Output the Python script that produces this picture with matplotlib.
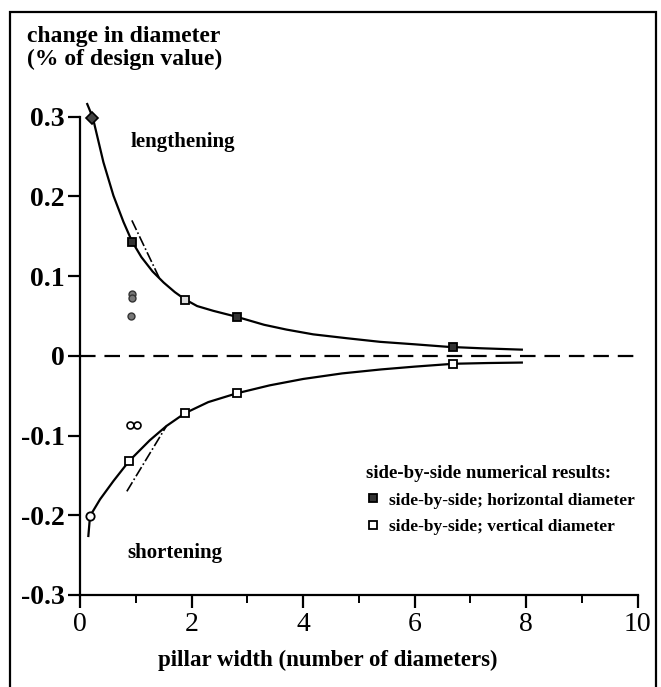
import matplotlib
matplotlib.use("Agg")
import matplotlib.pyplot as plt
from matplotlib.patches import Rectangle
from matplotlib.lines import Line2D

plt.rcParams['font.family'] = ['Liberation Serif', 'DejaVu Serif']

# fitted curves
x_up = [0.13, 0.23, 0.42, 0.60, 0.78, 0.93, 1.1, 1.3, 1.5, 1.7, 1.88, 2.1, 2.39, 2.81,
        3.3, 3.7, 4.18, 4.8, 5.38, 6.0, 6.6, 7.2, 7.92]
y_up = [0.316, 0.299, 0.243, 0.201, 0.168, 0.144, 0.124, 0.106, 0.092, 0.080, 0.071, 0.0625,
        0.0565, 0.049, 0.039, 0.033, 0.027, 0.022, 0.0176, 0.0145, 0.0113, 0.0095, 0.0078]
x_lo = [0.15, 0.18, 0.36, 0.60, 0.88, 1.25, 1.55, 1.88, 2.3, 2.81, 3.4, 4.0, 4.7, 5.4,
        6.0, 6.7, 7.3, 7.92]
y_lo = [-0.226, -0.201, -0.180, -0.157, -0.132, -0.106, -0.088, -0.072, -0.058, -0.047,
        -0.037, -0.029, -0.022, -0.017, -0.0135, -0.0099, -0.009, -0.0084]

# dash-dot approximations
x_dd_up = [0.93, 1.43]
y_dd_up = [0.170, 0.0965]
x_dd_lo = [0.84, 1.55]
y_dd_lo = [-0.170, -0.088]

# side-by-side numerical results
x_horiz = [0.93, 2.81, 6.69]
y_horiz = [0.143, 0.049, 0.0105]
x_horiz_open = [1.88]
y_horiz_open = [0.070]
x_vert = [0.88, 1.88, 2.81, 6.69]
y_vert = [-0.132, -0.072, -0.047, -0.0097]

# other points
x_diamond = [0.21]
y_diamond = [0.298]
x_circ_open = [0.18]
y_circ_open = [-0.201]
x_circ_grey = [0.93, 0.93, 0.92]
y_circ_grey = [0.078, 0.072, 0.050]
x_circ_pair = [0.90, 1.02]
y_circ_pair = [-0.087, -0.087]

fig = plt.figure(figsize=(6.61, 6.87), dpi=100)
ax = fig.add_axes([0.121, 0.134, 0.844, 0.696])

ax.plot(x_up, y_up, color='black', lw=1.6, clip_on=False, zorder=3)
ax.plot(x_lo, y_lo, color='black', lw=1.6, clip_on=False, zorder=3)
ax.plot(x_dd_up, y_dd_up, color='black', lw=1.2, ls='-.', zorder=3)
ax.plot(x_dd_lo, y_dd_lo, color='black', lw=1.2, ls='-.', zorder=3)
ax.axhline(0, color='black', lw=1.6, dashes=(7, 4), zorder=2)

mk = dict(ls='none', clip_on=False, zorder=4)
ax.plot(x_horiz, y_horiz, marker='s', ms=6, mfc='#333333', mec='black', mew=1.3, **mk)
ax.plot(x_horiz_open, y_horiz_open, marker='s', ms=6, mfc='#dddddd', mec='black', mew=1.3, **mk)
ax.plot(x_vert, y_vert, marker='s', ms=6, mfc='white', mec='black', mew=1.3, **mk)
ax.plot(x_diamond, y_diamond, marker='D', ms=6, mfc='#444444', mec='black', mew=1.2, **mk)
ax.plot(x_circ_open, y_circ_open, marker='o', ms=6, mfc='white', mec='black', mew=1.3, **mk)
ax.plot(x_circ_grey, y_circ_grey, marker='o', ms=5, mfc='#777777', mec='#333333', mew=1, **mk)
ax.plot(x_circ_pair, y_circ_pair, marker='o', ms=5, mfc='white', mec='black', mew=1.2, **mk)

ax.set_xlim(0, 10)
ax.set_ylim(-0.3, 0.3)
ax.spines['top'].set_visible(False)
ax.spines['right'].set_visible(False)
ax.spines['left'].set_linewidth(1.6)
ax.spines['bottom'].set_linewidth(1.6)

ax.set_xticks([0, 2, 4, 6, 8, 10])
ax.set_xticks([1, 3, 5, 7, 9], minor=True)
ax.set_xticklabels(['0', '2', '4', '6', '8', '10'])
ax.set_yticks([-0.3, -0.2, -0.1, 0, 0.1, 0.2, 0.3])
ax.set_yticklabels(['-0.3', '-0.2', '-0.1', '0', '0.1', '0.2', '0.3'], fontweight='bold')
ax.set_yticks([0], minor=True)
ax.tick_params(axis='x', which='major', direction='out', length=9, width=1.6, labelsize=20, pad=3)
ax.tick_params(axis='x', which='minor', direction='out', length=6, width=1.4)
ax.tick_params(axis='y', which='major', direction='out', length=9, width=1.6, labelsize=20, pad=2)
ax.tick_params(axis='y', which='minor', direction='in', length=9, width=1.6)

ax.set_xlabel('pillar width (number of diameters)', fontsize=16.5, fontweight='bold')
ax.xaxis.set_label_coords((328 - 80) / 558, -0.115)

ax.text(0.9, 0.268, 'lengthening', fontsize=15, fontweight='bold', va='center')
ax.text(0.85, -0.247, 'shortening', fontsize=15, fontweight='bold', va='center')

fig.text(27 / 661, 1 - 26 / 687, 'change in diameter\n(% of design value)',
         fontsize=17, fontweight='bold', va='top', ha='left', linespacing=1.1)

handles = [
    Line2D([], [], ls='none', marker='s', ms=6, mfc='#333333', mec='black', mew=1.3),
    Line2D([], [], ls='none', marker='s', ms=6, mfc='white', mec='black', mew=1.3),
]
leg = ax.legend(handles, ['side-by-side; horizontal diameter', 'side-by-side; vertical diameter'],
                title='side-by-side numerical results:', loc='upper left',
                bbox_to_anchor=(0.498, 0.29), frameon=False, handlelength=0.7,
                handletextpad=0.6, labelspacing=0.6, borderpad=0,
                prop={'size': 12.5, 'weight': 'bold'})
leg.get_title().set_fontsize(13.5)
leg.get_title().set_fontweight('bold')
leg._legend_box.align = 'left'

fig.patches.append(Rectangle((10 / 661, -0.01), 646 / 661, 1 - 12 / 687 + 0.01,
                             transform=fig.transFigure, fill=False, lw=1.6,
                             edgecolor='black'))

fig.savefig('out.png', dpi=100)
